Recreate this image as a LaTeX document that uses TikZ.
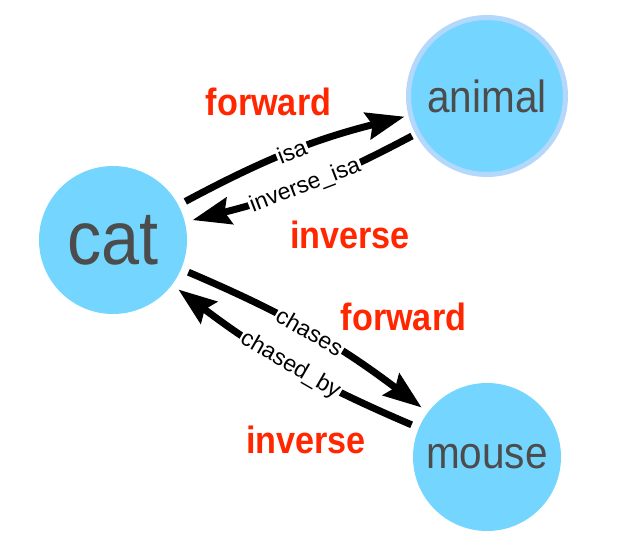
\documentclass[tikz,border=0pt]{standalone}
\usepackage{fontspec}
\setmainfont{Liberation Sans}
\usepackage{graphicx}
\usetikzlibrary{arrows.meta}

\definecolor{nodefill}{RGB}{116,214,255}
\definecolor{ringblue}{RGB}{180,216,252}
\definecolor{nodetext}{RGB}{76,76,76}
\definecolor{hintred}{RGB}{255,38,0}

\newcommand{\squash}[1]{\scalebox{0.9}[1]{#1}}

\begin{document}
\begin{tikzpicture}[x=1pt,y=-1pt,
  concept/.style={circle,fill=nodefill,text=nodetext,minimum size=148pt,inner sep=0pt,outer sep=8pt},
  selected/.style={draw=ringblue,line width=5pt,minimum size=157pt,outer sep=6.5pt},
  link/.style={line width=7pt,-{Stealth[length=38pt,width=27pt,inset=5pt]}},
  linklabel/.style={midway,sloped,fill=white,inner sep=1.5pt,font=\fontsize{23}{23}\selectfont},
  hint/.style={anchor=base,text=hintred,font=\bfseries\fontsize{38}{38}\selectfont}]
\useasboundingbox (0,0) rectangle (630,546);

% concepts
\node[concept,font=\fontsize{76}{76}\selectfont] (cat) at (113,240) {\squash{cat}};
\node[concept,selected,font=\fontsize{45}{45}\selectfont] (animal) at (487,96) {\squash{animal}};
\node[concept,font=\fontsize{45}{45}\selectfont] (mouse) at (487,457) {\squash{mouse}};

% relations, one each way
\draw[link] (cat) to[bend left=7] node[linklabel] {isa} (animal);
\draw[link] (animal) to[bend left=7] node[linklabel] {inverse\_isa} (cat);
\draw[link] (cat) to[bend left=7] node[linklabel] {chases} (mouse);
\draw[link] (mouse) to[bend left=7] node[linklabel] {chased\_by} (cat);

% direction hints
\node[hint] (fwdtop) at (268.5,115) {\squash{forward}};
\node[hint] (invtop) at (350,248) {\squash{inverse}};
\node[hint] (fwdlow) at (403.5,330) {\squash{forward}};
\node[hint] (invlow) at (306,453) {\squash{inverse}};
\end{tikzpicture}
\end{document}
